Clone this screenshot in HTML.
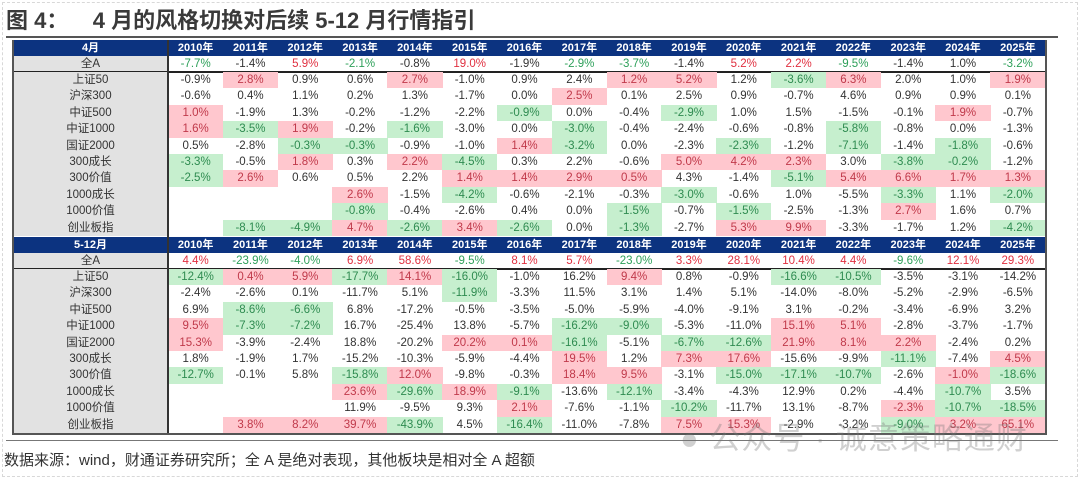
<!DOCTYPE html>
<html><head><meta charset="utf-8">
<style>
body{margin:0;background:#fff;width:1080px;height:479px;overflow:hidden;position:relative;font-family:"Liberation Sans","Noto Sans CJK SC",sans-serif;}
#frame{position:absolute;left:2px;top:2px;width:1074px;height:473px;border:1px dashed #d8d8d8;}
#title{position:absolute;left:6px;top:3px;font-size:22px;font-weight:bold;color:#3a3a3a;white-space:pre;}
#tline{position:absolute;left:6px;top:36px;width:1052px;height:2px;background:#555;}
#bline{position:absolute;left:6px;top:440px;width:1052px;height:1px;background:#777;}
#foot{position:absolute;left:4px;top:449px;font-size:15px;color:#333;}
.c{position:absolute;font-size:11.5px;text-align:center;color:#333;line-height:16px;}
.h{background:#0c3380;color:#fff;font-weight:bold;font-size:11px;}
.lab{background:#e2e2e2;color:#333;}
.p{background:#ffc7ce;color:#c0394a;}
.g{background:#c6efce;color:#2e8b50;}
.r{color:#e03040;}
.n{color:#2ea05a;}
#wm{position:absolute;left:680px;top:413px;font-size:31px;color:rgba(120,120,120,0.35);letter-spacing:1px;white-space:nowrap;}
</style></head><body>
<div id="frame"></div>
<div id="title">图 4：    4 月的风格切换对后续 5-12 月行情指引</div>
<div id="tline"></div>
<div id="tbl"></div>
<div id="bline"></div>
<div id="foot">数据来源：wind，财通证券研究所；全 A 是绝对表现，其他板块是相对全 A 超额</div>
<div id="wm">● 公众号 · 诚意策略通财</div>
<script>
const years=["2010年","2011年","2012年","2013年","2014年","2015年","2016年","2017年","2018年","2019年","2020年","2021年","2022年","2023年","2024年","2025年"];
const rowLabels=["全A","上证50","沪深300","中证500","中证1000","国证2000","300成长","300价值","1000成长","1000价值","创业板指"];
const aprilData=[
"n-7.7,-1.4,r5.9,n-2.1,-0.8,r19.0,-1.9,n-2.9,n-3.7,-1.4,r5.2,r2.2,n-9.5,-1.4,1.0,n-3.2",
"-0.9,p2.8,0.9,0.6,p2.7,-1.0,0.9,2.4,p1.2,p5.2,1.2,g-3.6,p6.3,2.0,1.0,p1.9",
"-0.6,0.4,1.1,0.2,1.3,-1.7,0.0,p2.5,0.1,2.5,0.9,-0.7,4.6,0.9,0.9,0.1",
"p1.0,-1.9,1.3,-0.2,-1.2,-2.2,g-0.9,0.0,-0.4,g-2.9,1.0,1.5,-1.5,-0.1,p1.9,-0.7",
"p1.6,g-3.5,p1.9,-0.2,g-1.6,-3.0,0.0,g-3.0,-0.4,-2.4,-0.6,-0.8,g-5.8,-0.8,0.0,-1.3",
"0.5,-2.8,g-0.3,g-0.3,-0.9,-1.0,p1.4,g-3.2,0.0,-2.3,g-2.3,-1.2,g-7.1,-1.4,g-1.8,-0.6",
"g-3.3,-0.5,p1.8,0.3,p2.2,g-4.5,0.3,2.2,-0.6,p5.0,p4.2,p2.3,3.0,g-3.8,g-0.2,-1.2",
"g-2.5,p2.6,0.6,0.5,2.2,p1.4,p1.4,p2.9,p0.5,4.3,-1.4,g-5.1,p5.4,p6.6,p1.7,p1.3",
",,,p2.6,-1.5,g-4.2,-0.6,-2.1,-0.3,g-3.0,-0.6,1.0,-5.5,g-3.3,1.1,g-2.0",
",,,g-0.8,-0.4,-2.6,0.4,0.0,g-1.5,-0.7,g-1.5,-2.5,-1.3,p2.7,1.6,0.7",
",g-8.1,g-4.9,p4.7,g-2.6,p3.4,g-2.6,0.0,g-1.3,-2.7,p5.3,p9.9,-3.3,-1.7,1.2,g-4.2"];
const laterData=[
"r4.4,n-23.9,n-4.0,r6.9,r58.6,n-9.5,r8.1,r5.7,n-23.0,r3.3,r28.1,r10.4,r4.4,n-9.6,r12.1,r29.3",
"g-12.4,p0.4,p5.9,g-17.7,p14.1,g-16.0,-1.0,16.2,p9.4,0.8,-0.9,g-16.6,g-10.5,-3.5,-3.1,-14.2",
"-2.4,-2.6,0.1,-11.7,5.1,g-11.9,-3.3,11.5,3.1,1.4,5.1,-14.0,-8.0,-5.2,-2.9,-6.5",
"6.9,g-8.6,g-6.6,6.8,-17.2,-0.5,-3.5,-5.0,-5.9,-4.0,-9.1,3.1,-0.2,-3.4,-6.9,3.2",
"p9.5,g-7.3,g-7.2,16.7,-25.4,13.8,-5.7,g-16.2,g-9.0,-5.3,-11.0,p15.1,p5.1,-2.8,-3.7,-1.7",
"p15.3,-3.9,-2.4,18.8,-20.2,p20.2,p0.1,g-16.1,-5.1,g-6.7,g-12.6,p21.9,p8.1,p2.2,-2.4,0.2",
"1.8,-1.9,1.7,-15.2,-10.3,-5.9,-4.4,p19.5,1.2,p7.3,p17.6,-15.6,-9.9,g-11.1,-7.4,p4.5",
"g-12.7,-0.1,5.8,g-15.8,p12.0,-9.8,-0.3,p18.4,p9.5,-3.1,g-15.0,g-17.1,g-10.7,-2.6,p-1.0,g-18.6",
",,,p23.6,g-29.6,p18.9,g-9.1,-13.6,g-12.1,-3.4,-4.3,12.9,0.2,-4.4,g-10.7,3.5",
",,,11.9,-9.5,9.3,p2.1,-7.6,-1.1,g-10.2,-11.7,13.1,-8.7,p-2.3,g-10.7,g-18.5",
",p3.8,p8.2,p39.7,g-43.9,4.5,g-16.4,-11.0,-7.8,p7.5,p15.3,-2.9,-3.2,g-9.0,p3.2,p65.1"];

const tbl=document.getElementById('tbl');
const X0=13,XL=168,XR=1045,CW=(XR-XL)/16;
function cell(x,y,w,h,txt,cls){
  const d=document.createElement('div');
  d.className='c '+cls;
  d.style.left=x+'px';d.style.top=y+'px';d.style.width=w+'px';d.style.height=h+'px';d.style.lineHeight=h+'px';
  d.textContent=txt;
  tbl.appendChild(d);return d;
}
function line(x,y,w,h,col,name){
  const d=document.createElement('div');
  d.style.cssText='position:absolute;left:'+x+'px;top:'+y+'px;width:'+w+'px;height:'+h+'px;background:'+col;
  
  
  tbl.appendChild(d);
}
function block(top,title,data,prefix){
  let h=cell(X0,top,XL-X0,16,title,'h');
  
  
  years.forEach((yr,i)=>{
    const d=cell(XL+i*CW,top,CW+0.5,16,yr,'h');
    
    
  });
  let y=top+16;
  data.forEach((row,ri)=>{
    const rh=ri===0?16:16.4;
    const l=cell(X0,y,XL-X0,rh,rowLabels[ri],'lab');
    
    
    row.split(',').forEach((v,ci)=>{
      let cls='',t=v;
      if(v&&'pgrn'.includes(v[0])){cls=v[0];t=v.slice(1);}
      const d=cell(XL+ci*CW,y,CW+0.5,rh,t?t+'%':'',cls);
      
      
    });
    y+=rh;
    if(ri===0) line(X0,y-1,XR-X0,1.5,'#222','summary-divider');
  });
  return y;
}
let yEnd=block(40,'4月',aprilData,'april');
yEnd=block(237,'5-12月',laterData,'may-dec');
line(XL-1,40,1.5,yEnd-40,'#333','label-divider');
line(X0-1,40,1.5,yEnd-40,'#555','table-left-border');
line(XR,40,1.5,yEnd-40,'#555','table-right-border');
line(X0-1,yEnd,XR-X0+2.5,1.5,'#555','table-bottom-border');
</script>
</body></html>
